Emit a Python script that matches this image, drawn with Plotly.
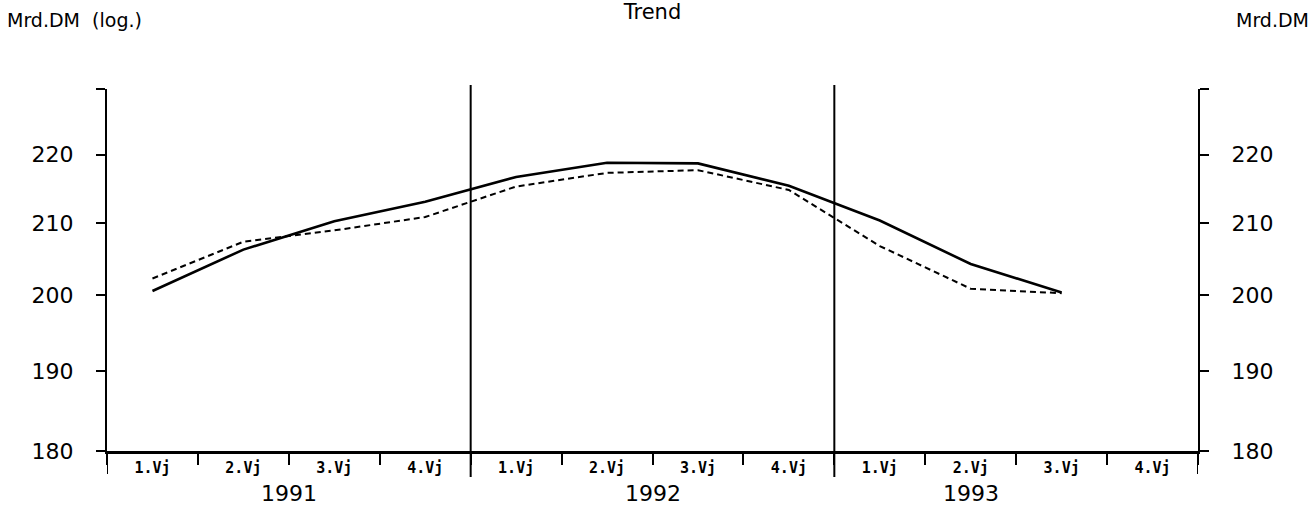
import plotly.graph_objects as go

# quarters (index 0 = 1.Vj 1991)
quarter_labels = ["1.Vj", "2.Vj", "3.Vj", "4.Vj"] * 3
years = ["1991", "1992", "1993"]

# trend values in Mrd. DM (11 quarters, 1991 Q1 .. 1993 Q3)
trend_solid = [200.6, 206.3, 210.3, 213.1, 216.7, 218.8, 218.7, 215.4, 210.4, 204.3, 200.4]
trend_dashed = [202.3, 207.4, 209.0, 210.9, 215.3, 217.3, 217.7, 214.8, 206.8, 200.9, 200.3]

y_ticks = [180, 190, 200, 210, 220, 230]
y_ticktext = ["180", "190", "200", "210", "220", ""]

W, H = 1314, 507
L, R, T, B = 107, 116, 89, 56
pw = W - L - R
ph = H - T - B

FONT = "DejaVu Sans"
MONO = "DejaVu Sans Mono"


def px_x(x):
    # page pixel -> paper x
    return (x - L) / pw


def px_y(y):
    # page pixel -> paper y
    return (H - B - y) / ph


xq = [i + 0.5 for i in range(len(trend_solid))]

fig = go.Figure()
fig.add_trace(go.Scatter(x=xq, y=trend_solid, mode="lines",
                         line=dict(color="black", width=2.6), showlegend=False))
fig.add_trace(go.Scatter(x=xq, y=trend_dashed, mode="lines",
                         line=dict(color="black", width=2, dash="6px,4px"), showlegend=False))
# dummy trace so the right axis gets drawn
fig.add_trace(go.Scatter(x=[None], y=[None], yaxis="y2", showlegend=False))

yax = dict(type="log", range=[2.255272505, 2.361727836], tickvals=y_ticks, ticktext=y_ticktext,
           ticks="outside", ticklen=9, tickwidth=2, tickcolor="black",
           showline=True, linewidth=2, linecolor="black", showgrid=False, zeroline=False,
           tickfont=dict(family=FONT, size=22, color="black"), ticklabelstandoff=18)

fig.update_layout(
    width=W, height=H,
    margin=dict(l=L, r=R, t=T, b=B),
    paper_bgcolor="white", plot_bgcolor="white",
    xaxis=dict(range=[0, 12], tickvals=[i + 0.5 for i in range(12)], ticktext=quarter_labels,
               ticks="", showline=True, linewidth=2.5, linecolor="black", showgrid=False,
               zeroline=False, tickfont=dict(family=MONO, size=15, color="black", weight="bold"),
               ticklabelstandoff=1,
               minor=dict(tick0=0, dtick=1, ticks="outside", ticklen=11, tickwidth=1.5,
                          tickcolor="black", showgrid=False)),
    yaxis=dict(**yax, side="left"),
    yaxis2=dict(**yax, side="right", overlaying="y", anchor="x"),
    title=dict(text="Trend", x=(L + pw / 2) / W, xanchor="center", y=1 - 12 / H,
               yanchor="middle", font=dict(family=FONT, size=21, color="black")),
)

# year separators and long ticks at the ends
for xb in [4, 8]:
    fig.add_shape(type="line", xref="x", yref="paper", x0=xb, x1=xb,
                  y0=px_y(477), y1=px_y(85), line=dict(color="black", width=2))
for xb in [0, 12]:
    fig.add_shape(type="line", xref="x", yref="paper", x0=xb, x1=xb,
                  y0=px_y(474), y1=0, line=dict(color="black", width=2))

# year labels centred on the quarters that carry data
n = len(trend_solid)
for k, yr in enumerate(years):
    q0 = 4 * k
    q1 = min(4 * k + 4, n)
    fig.add_annotation(x=(q0 + q1) / 2, xref="x", y=px_y(493), yref="paper", text=yr,
                       showarrow=False, xanchor="center", yanchor="middle",
                       font=dict(family=FONT, size=22, color="black"))

fig.add_annotation(x=px_x(5), xref="paper", y=px_y(20), yref="paper", text="Mrd.DM  (log.)",
                   showarrow=False, xanchor="left", yanchor="middle",
                   font=dict(family=FONT, size=19, color="black"))
fig.add_annotation(x=px_x(1311), xref="paper", y=px_y(20), yref="paper", text="Mrd.DM",
                   showarrow=False, xanchor="right", yanchor="middle",
                   font=dict(family=FONT, size=19, color="black"))

# drop the default page margin so the figure sits at the window's corner
fig.write_html("out.html", config={"displayModeBar": False},
               post_script="document.body.style.margin='0';")
